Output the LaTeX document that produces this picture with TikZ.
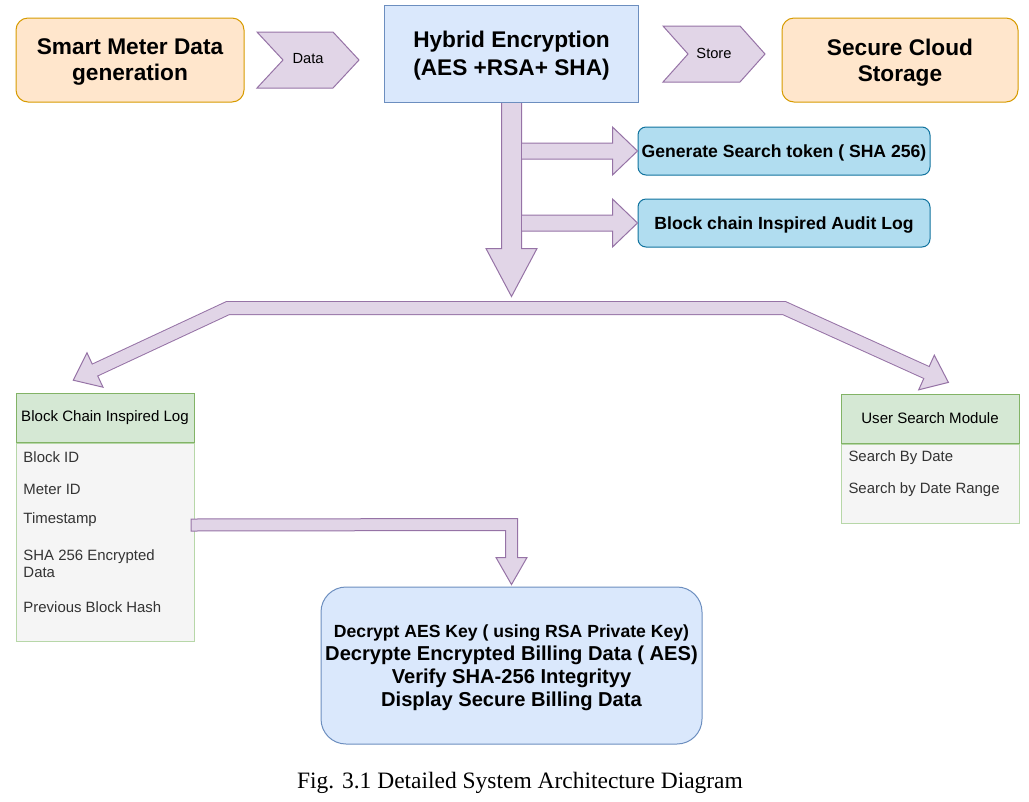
\documentclass[tikz,border=0pt]{standalone}
\usepackage{fontspec}
\setmainfont{Liberation Sans}
\newfontfamily\capfont{Liberation Serif}
\usetikzlibrary{calc}
\definecolor{orF}{HTML}{FFE6CC}\definecolor{orS}{HTML}{D79B00}
\definecolor{blF}{HTML}{DAE8FC}\definecolor{blS}{HTML}{6C8EBF}
\definecolor{puF}{HTML}{E1D5E7}\definecolor{puS}{HTML}{9673A6}
\definecolor{cyF}{HTML}{B1DDF0}\definecolor{cyS}{HTML}{10739E}
\definecolor{grF}{HTML}{D5E8D4}\definecolor{grS}{HTML}{82B366}
\definecolor{lsF}{HTML}{F5F5F5}\definecolor{lsS}{HTML}{B7D7A8}
\definecolor{itemC}{HTML}{333333}
\begin{document}
\begin{tikzpicture}[x=0.75pt,y=-0.75pt,line width=0.75pt,
  box/.style={draw,inner sep=0pt,align=center},
  orbox/.style={box,fill=orF,draw=orS,rounded corners=9pt,minimum height=63pt,text depth=0pt,
    font=\fontsize{17}{19.5}\selectfont\bfseries},
  hybox/.style={box,fill=blF,draw=blS,text depth=0pt,font=\fontsize{17}{21}\selectfont\bfseries},
  cybox/.style={box,fill=cyF,draw=cyS,rounded corners=6pt,minimum width=219pt,minimum height=36pt,
    text depth=0pt,font=\fontsize{13.2}{15}\selectfont\bfseries},
  lhead/.style={box,fill=grF,draw=grS,minimum width=133.5pt,minimum height=36.75pt,
    font=\fontsize{11.3}{13}\selectfont},
  lbody/.style={box,fill=lsF,draw=lsS,minimum width=133.5pt},
  item/.style={inner sep=0pt,anchor=west,align=left,text=itemC,
    font=\fontsize{11.2}{12.9}\selectfont},
  chev/.style={fill=puF,draw=puS},
  chevtxt/.style={inner sep=0pt,font=\fontsize{11}{13}\selectfont},
  blockarrow/.style={fill=puF,draw=puS},
  decbox/.style={box,fill=blF,draw=blS,rounded corners=18.75pt,minimum width=285.75pt,
    minimum height=117.75pt,text depth=0pt,font=\fontsize{15.1}{17.25}\selectfont\bfseries}
]
\useasboundingbox (0,0) rectangle (1029,801);

% top row
\node[orbox,minimum width=171pt] (smart) at (130,60) {Smart Meter Data\\generation};
\node[hybox,minimum width=190.5pt,minimum height=72.75pt] (hybrid) at (511.5,53.5) {Hybrid Encryption\\(AES +RSA+ SHA)};
\node[orbox,minimum width=177pt] (cloud) at (900,60) {Secure Cloud\\Storage};

\draw[chev] (257,32) -- (333,32) -- (359,60) -- (333,88) -- (257,88) -- (283,60) -- cycle;
\node[chevtxt] (datalbl) at (308,59) {Data};
\draw[chev] (663,26) -- (740,26) -- (765,54) -- (740,82) -- (663,82) -- (688,54) -- cycle;
\node[chevtxt] (storelbl) at (714,53) {Store};

% cyan boxes
\node[cybox] (gen) at (784,151) {Generate Search token ( SHA 256)};
\node[cybox] (audit) at (784,223) {Block chain Inspired Audit Log};

% left list
\node[lhead] (bclh) at (105,417.5) {Block Chain Inspired Log};
\node[lbody,minimum height=148.5pt,anchor=north] (bclb) at (bclh.south) {};
\node[item] (i1) at (23,457) {Block ID};
\node[item] (i2) at (23,489) {Meter ID};
\node[item] (i3) at (23,520) {Timestamp};
\node[item] (i4) at (23,563.5) {SHA 256 Encrypted\\Data};
\node[item] (i5) at (23,607) {Previous Block Hash};

% right list
\node[lhead] (usmh) at (930,418.5) {User Search Module};
\node[lbody,minimum height=59.25pt,anchor=north] (usmb) at (usmh.south) {};
\node[item] (u1) at (848,458) {Search By Date};
\node[item] (u2) at (848,490) {Search by Date Range};

% decrypt box
\node[decbox] (dec) at (511.5,665.5) {{\fontsize{13.2}{15}\selectfont Decrypt AES Key ( using RSA Private Key)}\\
  Decrypte Encrypted Billing Data ( AES)\\Verify SHA-256 Integrityy\\Display Secure Billing Data};

% caption
\node[inner sep=0pt,font=\capfont\fontsize{17.6}{20}\selectfont] (cap) at (520,783) {Fig. 3.1 Detailed System Architecture Diagram};

% down arrow from hybrid
\coordinate (dS) at ($(hybrid.south)+(0,0.5)$);
\filldraw[blockarrow] ($(dS)+(-10,0)$) -- ($(dS)+(-10,145.5)$) -- ($(dS)+(-25.5,145.5)$)
  -- ($(dS)+(0,193.5)$) coordinate (dT) -- ($(dS)+(25.5,145.5)$) -- ($(dS)+(10,145.5)$) -- ($(dS)+(10,0)$);

% side arrows
\filldraw[blockarrow] ($(gen.west)+(-115.5,-8)$) -- ($(gen.west)+(-25,-8)$) -- ($(gen.west)+(-25,-24)$)
  -- (gen.west) -- ($(gen.west)+(-25,24)$) -- ($(gen.west)+(-25,8)$) -- ($(gen.west)+(-115.5,8)$);
\filldraw[blockarrow] ($(audit.west)+(-115.5,-8)$) -- ($(audit.west)+(-25,-8)$) -- ($(audit.west)+(-25,-24)$)
  -- (audit.west) -- ($(audit.west)+(-25,24)$) -- ($(audit.west)+(-25,8)$) -- ($(audit.west)+(-115.5,8)$);

% branching arrow
\coordinate (bL) at (95,370);
\coordinate (bA) at (228,308);
\coordinate (bB) at (784,308);
\coordinate (bR) at (926.5,372.5);
\filldraw[blockarrow] (87,352.8) -- (73.3,380.2) -- (103,387.2) -- cycle;
\filldraw[blockarrow] (934.3,355.2) -- (948.4,382.4) -- (918.7,389.8) -- cycle;
\draw[draw=puS,line width=10.5pt,miter limit=10] (bL) -- (bA) -- (bB) -- (bR);
\draw[draw=puF,line width=9pt,miter limit=10,shorten <=-0.8pt,shorten >=-0.8pt] (bL) -- (bA) -- (bB) -- (bR);

% timestamp arrow to decrypt box
\filldraw[blockarrow] (191,519) -- ($(dec.north)+(6,-68)$) -- ($(dec.north)+(6,-29)$) -- ($(dec.north)+(15.5,-29)$)
  -- ($(dec.north)+(0,-2)$) -- ($(dec.north)+(-15.5,-29)$) -- ($(dec.north)+(-6,-29)$) -- ($(dec.north)+(-6,-56)$)
  -- (191,531) -- cycle;
\end{tikzpicture}
\end{document}
